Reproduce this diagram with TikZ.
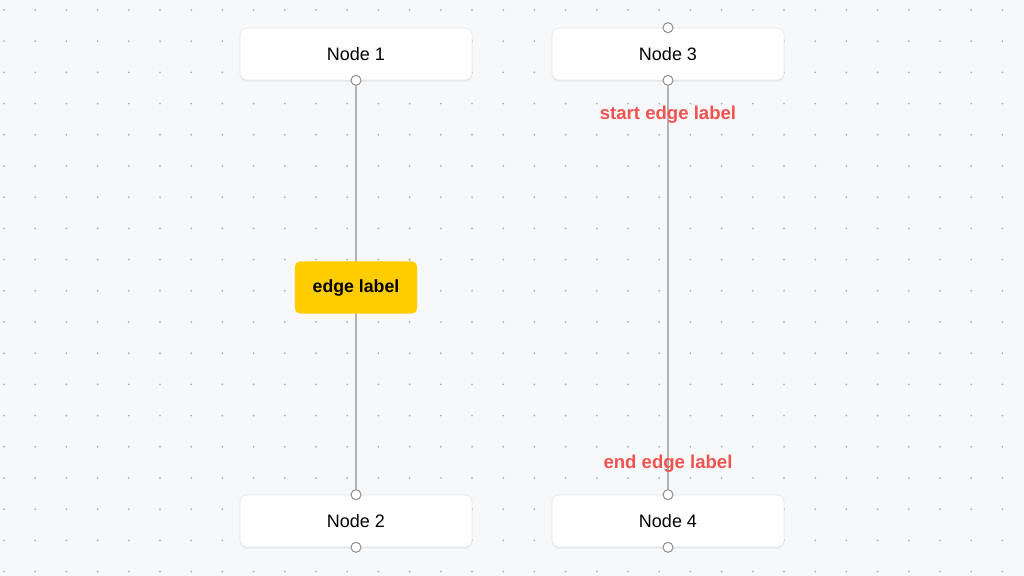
\documentclass[tikz,border=0pt]{standalone}
\usepackage{fontspec}
\setmainfont{Liberation Sans}
\usetikzlibrary{shadows}
\definecolor{canvas}{HTML}{F7F8FA}
\definecolor{griddot}{HTML}{B4B6BA}
\definecolor{boxline}{HTML}{E2E3E6}
\definecolor{handleline}{HTML}{8C8C8C}
\definecolor{wirecol}{HTML}{B1B1B7}
\definecolor{labelyellow}{HTML}{FFCC00}
\definecolor{labelred}{HTML}{EF5350}
\begin{document}
\begin{tikzpicture}[x=0.025cm, y=-0.025cm,
    flownode/.style={rectangle, rounded corners=5pt, draw=boxline, fill=white,
      minimum width=5.8cm, minimum height=1.3cm, inner sep=0pt,
      font=\fontsize{12.8}{15}\selectfont,
      drop shadow={opacity=0.1, shadow xshift=0pt, shadow yshift=-1.4pt}},
    handle/.style={circle, draw=handleline, fill=white, line width=0.7pt,
      inner sep=0pt, minimum size=0.25cm},
    wire/.style={draw=wirecol, line width=0.8pt},
    yellowlbl/.style={rectangle, rounded corners=3.5pt, fill=labelyellow,
      minimum width=3.05cm, minimum height=1.3cm, inner sep=0pt,
      font=\bfseries\fontsize{12.6}{15}\selectfont},
    redlbl/.style={text=labelred, inner sep=0pt,
      font=\bfseries\fontsize{13.2}{16}\selectfont}]
  \useasboundingbox (0,0) rectangle (1024,576);
  \fill[canvas] (0,0) rectangle (1024,576);
  % dotted background
  \foreach \i in {0,...,32}
    \foreach \j in {0,...,18}
      \fill[griddot] (4+31.2*\i, 10+31.2*\j) circle (0.75pt);

  % nodes
  \node[flownode] (n1) at (356,54) {Node 1};
  \node[flownode] (n2) at (356,521) {Node 2};
  \node[flownode] (n3) at (668,54) {Node 3};
  \node[flownode] (n4) at (668,521) {Node 4};

  % handles
  \node[handle] (n1b) at (n1.south) {};
  \node[handle] (n2t) at (n2.north) {};
  \node[handle] (n2b) at (n2.south) {};
  \node[handle] (n3t) at (n3.north) {};
  \node[handle] (n3b) at (n3.south) {};
  \node[handle] (n4t) at (n4.north) {};
  \node[handle] (n4b) at (n4.south) {};

  % edges
  \draw[wire] (n1b) -- node[yellowlbl] (lbl) {edge label} (n2t);
  \draw[wire] (n3b) -- node[redlbl, pos=0.073] (startlbl) {start edge label}
    node[redlbl, pos=0.937] (endlbl) {end edge label} (n4t);
\end{tikzpicture}
\end{document}
